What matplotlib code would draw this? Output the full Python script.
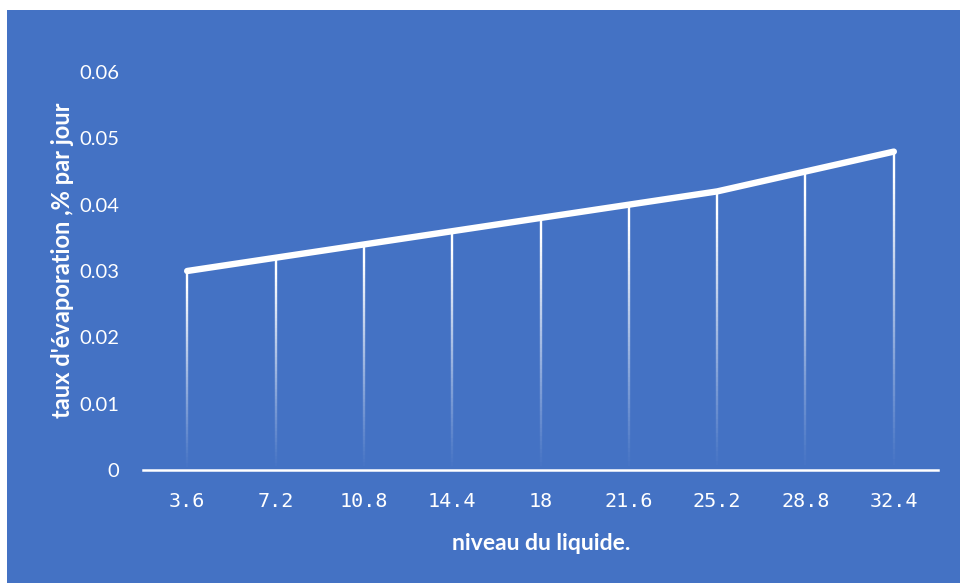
import numpy as np
import matplotlib
matplotlib.use("Agg")
import matplotlib.pyplot as plt
from matplotlib.collections import LineCollection
from matplotlib.patches import Rectangle

# Data
niveaux = ["3.6", "7.2", "10.8", "14.4", "18", "21.6", "25.2", "28.8", "32.4"]
taux = [0.030, 0.032, 0.034, 0.036, 0.038, 0.040, 0.042, 0.045, 0.048]
yticks = [0, 0.01, 0.02, 0.03, 0.04, 0.05, 0.06]
ytick_labels = ["0", "0.01", "0.02", "0.03", "0.04", "0.05", "0.06"]

BLUE = "#4472C4"
W, H = 960, 585

fig = plt.figure(figsize=(W / 100, H / 100), dpi=100, facecolor="white")

# Blue chart area
fig.patches.append(Rectangle((7 / W, 2 / H), 1 - 7 / W, (583 - 10) / H,
                             transform=fig.transFigure, facecolor=BLUE,
                             edgecolor="none", zorder=-10))

ax = fig.add_axes([143 / W, (H - 470) / H, (938 - 143) / W, (470 - 72) / H])
ax.set_facecolor("none")
ax.set_zorder(5)

x = np.arange(len(niveaux))
ax.set_xlim(-0.5, len(niveaux) - 0.5)
ax.set_ylim(0, 0.06)

# Drop lines fading towards the axis
n_seg = 60
for xi, v in zip(x, taux):
    ys = np.linspace(0, v, n_seg + 1)
    segs = [[(xi, ys[i]), (xi, ys[i + 1])] for i in range(n_seg)]
    frac = (ys[:-1] + ys[1:]) / 2 / v
    alphas = np.clip(frac ** 1.1 * 1.1, 0, 1)
    colors = [(1, 1, 1, a) for a in alphas]
    ax.add_collection(LineCollection(segs, colors=colors, linewidths=1.7,
                                     capstyle="butt", zorder=2))

ax.plot(x, taux, color="white", lw=4.6, solid_capstyle="round",
        solid_joinstyle="round", zorder=3)

for s in ["left", "right", "top"]:
    ax.spines[s].set_visible(False)
ax.spines["bottom"].set_color("white")
ax.spines["bottom"].set_linewidth(1.8)
ax.spines["bottom"].set_zorder(4)

ax.set_yticks(yticks)
ax.set_yticklabels(ytick_labels, fontsize=14.5, color="white", family="Lato")
ax.tick_params(axis="y", length=0, pad=17)
ax.set_xticks(x)
ax.set_xticklabels(niveaux, fontsize=14.5, color="white", family="DejaVu Sans Mono")
ax.tick_params(axis="x", length=0, pad=16)

fig.text(62 / W, (H - 260) / H, "taux d'évaporation ,% par jour", rotation=90,
         ha="center", va="center", color="white", fontsize=17,
         fontweight="bold", family="Lato")
fig.text(541 / W, (H - 543) / H, "niveau du liquide.", ha="center",
         va="center", color="white", fontsize=16.5, fontweight="bold",
         family="Lato")

fig.savefig("out.png", dpi=100, facecolor="white")
